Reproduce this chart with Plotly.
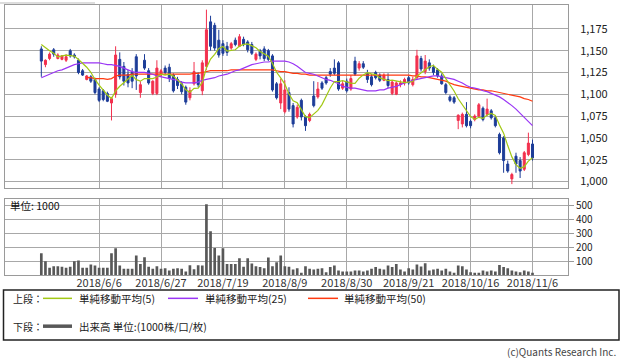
import plotly.graph_objects as go
import pandas as pd

# ---------------- data ----------------
holidays = ["2018-07-16", "2018-09-17", "2018-09-24", "2018-10-08"]
trade_days = pd.bdate_range("2018-05-17", "2018-11-06", freq="C", holidays=holidays)
dates = [f"{d.year}/{d.month}/{d.day}" for d in trade_days]

tick_dates = ["2018/6/6", "2018/6/27", "2018/7/19", "2018/8/9",
              "2018/8/30", "2018/9/21", "2018/10/16", "2018/11/6"]

opens = [1152,1134,1141,1151,1141,1140,1139,1150,1145,1139,1127,1117,1120,1117,1106,1104,1101,1090,1100,1140,
         1132,1123,1125,1143,1102,1139,1127,1101,1101,1122,1130,1131,1122,1117,1112,1108,1096,1112,1122,1104,
         1132,1183,1179,1162,1158,1155,1153,1162,1155,1163,1160,1157,1140,1150,1152,1150,1144,1112,1090,1080,
         1102,1087,1074,1093,1074,1070,1098,1097,1113,1119,1126,1130,1136,1107,1115,1106,1138,1130,1135,1124,
         1120,1125,1122,1116,1117,1101,1100,1111,1113,1119,1111,1119,1141,1126,1136,1131,1128,1121,1111,1097,
         1096,1070,1066,1077,1069,1071,1075,1084,1077,1081,1073,1054,1050,1020,1003,1029,1024,1014,1031,1043]
highs = [1155,1140,1148,1153,1147,1145,1146,1152,1147,1141,1129,1122,1122,1119,1108,1106,1103,1097,1155,1148,
         1137,1128,1130,1146,1115,1146,1130,1116,1139,1129,1133,1135,1124,1120,1115,1110,1108,1137,1125,1139,
         1197,1190,1182,1174,1162,1160,1160,1165,1169,1166,1162,1160,1148,1152,1155,1152,1146,1114,1118,1116,
         1108,1090,1088,1095,1076,1079,1115,1114,1115,1121,1130,1140,1138,1115,1118,1122,1143,1138,1138,1128,
         1123,1127,1124,1124,1124,1116,1115,1116,1119,1121,1120,1151,1144,1145,1140,1134,1130,1124,1113,1099,
         1098,1077,1079,1091,1071,1077,1090,1086,1095,1083,1075,1056,1052,1024,1010,1033,1028,1035,1056,1048]
lows = [1120,1131,1139,1143,1140,1139,1137,1142,1141,1123,1121,1116,1113,1100,1091,1092,1091,1070,1096,1117,
        1110,1108,1107,1105,1096,1128,1111,1099,1099,1120,1123,1114,1102,1106,1100,1088,1093,1110,1108,1099,
        1128,1150,1150,1142,1144,1144,1151,1155,1154,1155,1148,1145,1138,1140,1138,1138,1103,1094,1083,1078,
        1080,1062,1072,1070,1058,1068,1085,1095,1105,1111,1120,1122,1104,1105,1102,1104,1121,1127,1129,1113,
        1109,1117,1114,1115,1107,1099,1099,1108,1110,1111,1109,1117,1126,1123,1127,1122,1119,1111,1100,1091,
        1089,1060,1062,1062,1061,1069,1073,1069,1075,1071,1062,1031,1010,1010,997,1010,1004,1012,1029,1024]
closes = [1138,1139,1146,1146,1145,1144,1143,1144,1143,1125,1122,1121,1115,1102,1093,1094,1092,1095,1145,1120,
          1115,1113,1115,1121,1111,1130,1113,1115,1130,1127,1125,1118,1104,1110,1103,1091,1104,1126,1111,1136,
          1174,1155,1153,1145,1147,1148,1158,1157,1166,1157,1151,1147,1146,1144,1141,1140,1105,1096,1112,1105,
          1083,1066,1085,1074,1064,1077,1087,1106,1107,1113,1123,1124,1106,1112,1104,1118,1123,1135,1131,1117,
          1111,1119,1116,1122,1110,1114,1113,1113,1117,1113,1117,1144,1129,1138,1130,1125,1121,1112,1102,1093,
          1091,1076,1077,1064,1064,1075,1088,1071,1083,1073,1064,1033,1024,1012,1008,1020,1012,1033,1044,1027]

# first four 5-day averages (need closes before the window)
ma5_head = [1157, 1153, 1150, 1147]
ma25 = [1119,1121,1123,1125,1127,1128,1130,1132,1134,1135,1136,1136,1136,1136,1136,1135,1134,1134,1133,1132,
        1130,1128,1126,1125,1125,1125,1124,1123,1121,1120,1119,1118,1117,1116,1114,1113,1113,1113,1114,1116,
        1117,1118,1119,1121,1122,1123,1125,1127,1128,1130,1132,1134,1135,1136,1137,1137,1138,1138,1138,1138,
        1137,1135,1132,1128,1125,1124,1123,1121,1119,1117,1116,1114,1112,1109,1108,1107,1107,1106,1105,1104,
        1104,1104,1105,1105,1107,1108,1109,1111,1113,1114,1116,1117,1118,1119,1120,1121,1121,1120,1119,1118,
        1117,1115,1113,1110,1108,1107,1106,1104,1103,1101,1099,1097,1094,1091,1087,1083,1078,1073,1068,1064]
ma50 = [None]*11 + [1119,1119,1118,1118,1118,1117,1118,1121,1122,
        1122,1122,1123,1123,1123,1123,1123,1123,1123,1123,1123,1123,1123,1123,1123,1123,1123,1124,1124,1125,
        1126,1127,1127,1127,1127,1127,1128,1128,1128,1128,1128,1128,1128,1128,1128,1128,1128,1127,1126,1126,
        1125,1124,1124,1123,1123,1122,1122,1122,1122,1122,1122,1122,1122,1122,1122,1122,1122,1122,1122,1122,
        1122,1122,1122,1122,1122,1122,1122,1122,1122,1122,1121,1121,1120,1120,1119,1118,1117,1116,1115,1113,
        1111,1110,1109,1108,1107,1106,1105,1105,1104,1104,1103,1102,1101,1100,1099,1098,1097,1095,1094,1092]

volume = [159,102,55,67,67,62,55,62,102,107,55,55,79,71,55,55,55,159,195,71,
          48,48,48,143,83,131,62,48,67,48,52,36,48,52,48,29,74,45,74,71,
          512,317,198,143,195,83,83,83,124,62,124,86,67,60,52,129,67,95,143,67,
          62,43,52,19,67,48,43,48,52,24,60,71,36,29,29,29,36,36,29,36,
          48,60,48,43,71,60,83,43,29,52,43,79,64,88,36,43,48,36,48,29,
          19,71,67,43,24,19,19,36,29,36,29,76,60,52,36,29,24,36,29,19]

price_ticks = [1000, 1025, 1050, 1075, 1100, 1125, 1150, 1175]
vol_ticks = [100, 200, 300, 400, 500]

ma5 = list(ma5_head) + [sum(closes[i-4:i+1]) / 5 for i in range(4, len(closes))]

# ---------------- style ----------------
W, H = 625, 359
def X(px): return px / W
def Y(py): return 1 - py / H

UP = "#f2304e"
DOWN = "#1d3d98"
C5 = "#a2c814"
C25 = "#9a35f5"
C50 = "#ff3a10"
VOLC = "#585858"
GRID = "#a8a8a8"
FONT = "Noto Sans CJK JP, Noto Sans, sans-serif"

fig = go.Figure()
fig.add_trace(go.Candlestick(
    x=dates, open=opens, high=highs, low=lows, close=closes,
    xaxis="x", yaxis="y", whiskerwidth=0,
    increasing=dict(line=dict(color=UP, width=1), fillcolor=UP),
    decreasing=dict(line=dict(color=DOWN, width=1), fillcolor=DOWN),
    showlegend=False, hoverinfo="skip"))
for vals, col in [(ma50, C50), (ma25, C25), (ma5, C5)]:
    fig.add_trace(go.Scatter(x=dates, y=vals, mode="lines", xaxis="x", yaxis="y",
                             line=dict(color=col, width=1.2), showlegend=False,
                             hoverinfo="skip"))
fig.add_trace(go.Bar(x=dates, y=volume, xaxis="x2", yaxis="y2",
                     marker=dict(color=VOLC, line=dict(width=0)),
                     showlegend=False, hoverinfo="skip"))

xr = [-8.8, 127.6]
common_x = dict(type="category", range=xr, tickvals=tick_dates, showgrid=True,
                gridcolor=GRID, gridwidth=1, showline=True, mirror=True,
                linecolor="#9a9a9a", linewidth=1, ticks="", zeroline=False,
                domain=[X(5), X(568)], fixedrange=True)

fig.update_layout(
    width=W, height=H, margin=dict(l=0, r=0, t=0, b=0),
    paper_bgcolor="white", plot_bgcolor="white",
    font=dict(family=FONT, color="#222"),
    bargap=0.35,
    xaxis=dict(**common_x, anchor="y", showticklabels=False,
               rangeslider=dict(visible=False)),
    yaxis=dict(domain=[Y(187), Y(2.7)], range=[992.6, 1202.7], side="right",
               anchor="x", tickvals=price_ticks, tickformat=",d",
               showgrid=True, gridcolor=GRID, gridwidth=1, showline=True,
               mirror=True, linecolor="#9a9a9a", linewidth=1, zeroline=False,
               ticks="outside", ticklen=9, tickcolor="rgba(0,0,0,0)",
               tickfont=dict(size=11, color="#222", family=FONT), fixedrange=True),
    xaxis2=dict(**common_x, anchor="y2", ticktext=tick_dates,
                ticklabelstandoff=-3,
                tickfont=dict(size=11, color="#333", family=FONT)),
    yaxis2=dict(domain=[Y(275), Y(198)], range=[0, 550], side="right",
                anchor="x2", tickvals=vol_ticks,
                showgrid=True, gridcolor=GRID, gridwidth=1, showline=True,
                mirror=True, linecolor="#9a9a9a", linewidth=1, zeroline=False,
                ticks="outside", ticklen=5, tickcolor="#9a9a9a",
                tickfont=dict(size=10, color="#222", family=FONT), fixedrange=True),
)

shapes = []
annotations = []
# little decoration line at top left
shapes.append(dict(type="line", xref="paper", yref="paper",
                   x0=X(0), x1=X(95), y0=Y(1), y1=Y(1),
                   line=dict(color="#bbbbbb", width=1)))
# legend box
shapes.append(dict(type="rect", xref="paper", yref="paper",
                   x0=X(3.5), x1=X(619), y0=Y(340), y1=Y(289.5),
                   line=dict(color="#222", width=1.5), fillcolor="rgba(0,0,0,0)"))

def txt(x, y, s, size=10.5, anchor="left", color="#222"):
    annotations.append(dict(xref="paper", yref="paper", x=X(x), y=Y(y), text=s,
                            showarrow=False, xanchor=anchor, yanchor="middle",
                            font=dict(size=size, color=color, family=FONT)))

def seg(x0, x1, y, col, w):
    shapes.append(dict(type="line", xref="paper", yref="paper",
                       x0=X(x0), x1=X(x1), y0=Y(y), y1=Y(y),
                       line=dict(color=col, width=w)))

txt(8, 205, "単位: 1000", size=10.5, color="#111")

txt(11, 298, "上段：", size=10)
seg(43, 72, 298, C5, 1.5)
txt(77, 298, "単純移動平均(5)")
seg(168, 198, 298, C25, 1.5)
txt(203, 298, "単純移動平均(25)")
seg(308, 338, 298, C50, 1.5)
txt(342, 298, "単純移動平均(50)")

txt(11, 326, "下段：", size=10)
seg(43, 72, 326, VOLC, 3.5)
txt(77, 326, "出来高 単位:(1000株/口/枚)")

txt(618, 351, "(c)Quants Research Inc.", size=10, anchor="right", color="#444")

fig.update_layout(shapes=shapes, annotations=annotations)

fig.write_html("out.html", config={"displayModeBar": False},
               post_script="document.body.style.margin='0';document.body.style.overflow='hidden';")
